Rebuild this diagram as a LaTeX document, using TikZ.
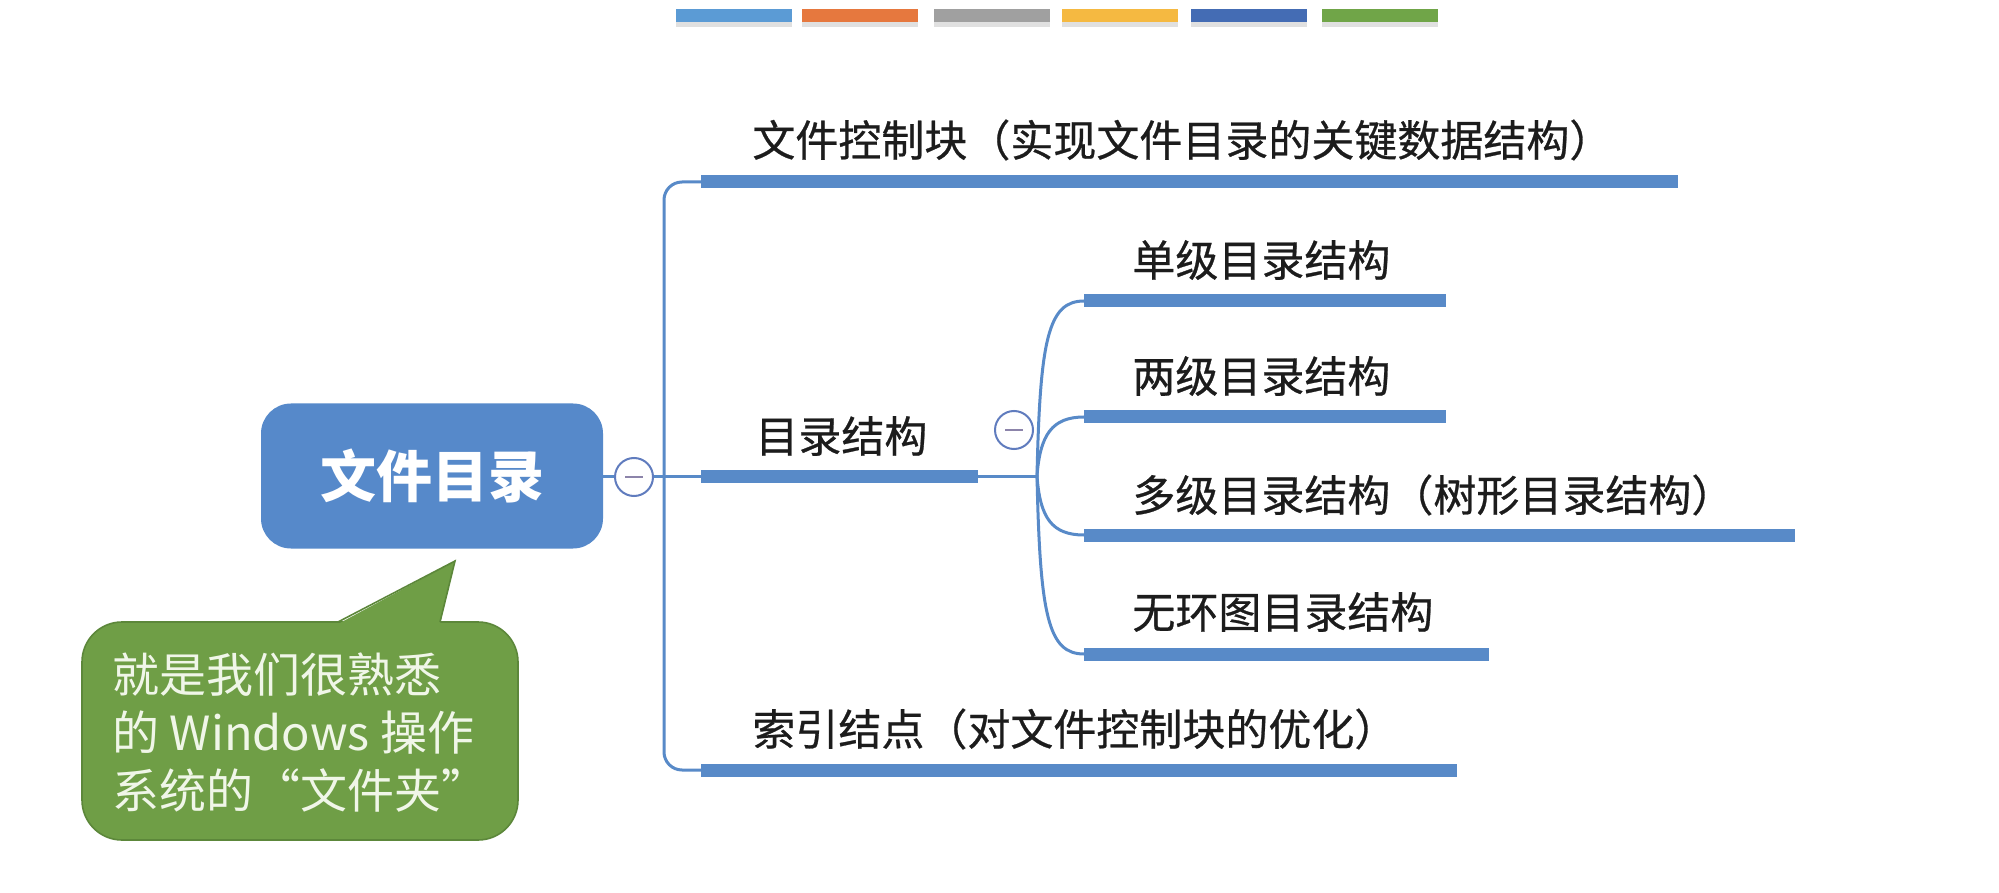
\documentclass[tikz,border=0pt]{standalone}
\usepackage{fontspec}
\newfontfamily\cjk{Noto Sans CJK SC}
\newfontfamily\cjkm[FakeBold=0.6]{Noto Sans CJK SC}
\definecolor{lineblue}{RGB}{88,138,200}
\definecolor{rootblue}{RGB}{86,137,202}
\definecolor{bubgreen}{RGB}{111,158,70}
\definecolor{bubedge}{RGB}{92,135,58}
\definecolor{bubtext}{RGB}{240,246,232}
\definecolor{txt}{RGB}{28,28,28}
\definecolor{cedge}{RGB}{96,124,190}
\definecolor{cminus}{RGB}{140,132,170}
\definecolor{pa}{RGB}{91,155,213}
\definecolor{pb}{RGB}{230,120,62}
\definecolor{pc}{RGB}{160,160,160}
\definecolor{pd}{RGB}{245,185,65}
\definecolor{pe}{RGB}{68,108,180}
\definecolor{pf}{RGB}{112,165,72}
\begin{document}
\begin{tikzpicture}[x=0.5pt,y=-0.5pt,
  thinline/.style={draw=lineblue,line width=1.5pt},
  barline/.style={draw=lineblue,line width=6.5pt},
  lbl/.style={anchor=west,inner sep=0pt,text=txt,font=\cjkm\fontsize{21.5pt}{26pt}\selectfont},
  toggle/.style={circle,draw=cedge,fill=white,line width=1pt,minimum size=19pt,inner sep=0pt,
    path picture={\draw[cminus,line width=1.4pt] ([xshift=-4.5pt]path picture bounding box.center) -- ([xshift=4.5pt]path picture bounding box.center);}},
  palette/.style={minimum width=58pt,minimum height=6.5pt,inner sep=0pt},
  pshadow/.style={fill=black,opacity=0.12,minimum width=58pt,minimum height=6.5pt,inner sep=0pt}
]
\useasboundingbox (0,0) rectangle (1999,893);
\fill[white] (0,0) rectangle (1999,893);

% palette bars
\foreach \cx/\cc [count=\i] in {734/pa,860/pb,991.5/pc,1119.5/pd,1249/pe,1379.5/pf}{
  \node[pshadow] (ps\i) at (\cx,21) {};
  \node[palette,fill=\cc] (pal\i) at (\cx,16) {};
}

% root
\node[rounded corners=15pt,fill=rootblue,minimum width=171pt,minimum height=72.5pt,inner sep=0pt,
  text=white,font=\cjk\bfseries\fontsize{28pt}{32pt}\selectfont] (root) at (432,476) {文件目录};

% coordinates
\coordinate (tS) at (701,182);  \coordinate (tE) at (1678,182);
\coordinate (mS) at (701,476);  \coordinate (mE) at (978,476);
\coordinate (bS) at (701,770);  \coordinate (bE) at (1457,770);
\coordinate (trT) at (664,182); \coordinate (trB) at (664,770);
\coordinate (fan) at (1037,476);
\coordinate (s1S) at (1084,301); \coordinate (s1E) at (1446,301);
\coordinate (s2S) at (1084,417); \coordinate (s2E) at (1446,417);
\coordinate (s3S) at (1084,535); \coordinate (s3E) at (1795,535);
\coordinate (s4S) at (1084,654); \coordinate (s4E) at (1489,654);

% trunk
\draw[thinline,rounded corners=9pt] (tS) -- (trT) -- (trB) -- (bS);
\draw[thinline] (root.east) -- (mS);
\draw[thinline] (mE) -- (fan);

% fan
\draw[thinline] (fan) .. controls (1040,340) and (1048,301) .. (s1S);
\draw[thinline] (fan) .. controls (1040,435) and (1052,417) .. (s2S);
\draw[thinline] (fan) .. controls (1040,518) and (1052,535) .. (s3S);
\draw[thinline] (fan) .. controls (1040,615) and (1048,654) .. (s4S);

% bars
\draw[barline] (tS) -- (tE);
\draw[barline] (mS) -- (mE);
\draw[barline] (bS) -- (bE);
\draw[barline] (s1S) -- (s1E);
\draw[barline] (s2S) -- (s2E);
\draw[barline] (s3S) -- (s3E);
\draw[barline] (s4S) -- (s4E);

% toggles
\node[toggle] (tg1) at (634,477) {};
\node[toggle] (tg2) at (1014,430) {};

% labels
\node[lbl] (l1) at (752,140) {文件控制块（实现文件目录的关键数据结构）};
\node[lbl] (l2) at (755,436) {目录结构};
\node[lbl] (l3) at (752,729) {索引结点（对文件控制块的优化）};
\node[lbl] (s1) at (1132,260) {单级目录结构};
\node[lbl] (s2) at (1132,376) {两级目录结构};
\node[lbl] (s3) at (1132,495) {多级目录结构（树形目录结构）};
\node[lbl] (s4) at (1132,612) {无环图目录结构};

% callout bubble
\draw[fill=bubgreen,draw=bubedge,line width=0.8pt,rounded corners=20pt]
  (82,622) rectangle (518,840);
\fill[bubgreen] (338,624) -- (455,561) -- (440,624) -- cycle;
\draw[bubedge,line width=0.8pt] (338,622) -- (455,561) -- (440,622);
\node[anchor=north west,inner sep=0pt,align=left,text=bubtext,
  font=\cjk\fontsize{23.5pt}{29pt}\selectfont] (note) at (112,652)
  {就是我们很熟悉\\的 Windows 操作\\系统的“文件夹”};
\end{tikzpicture}
\end{document}
